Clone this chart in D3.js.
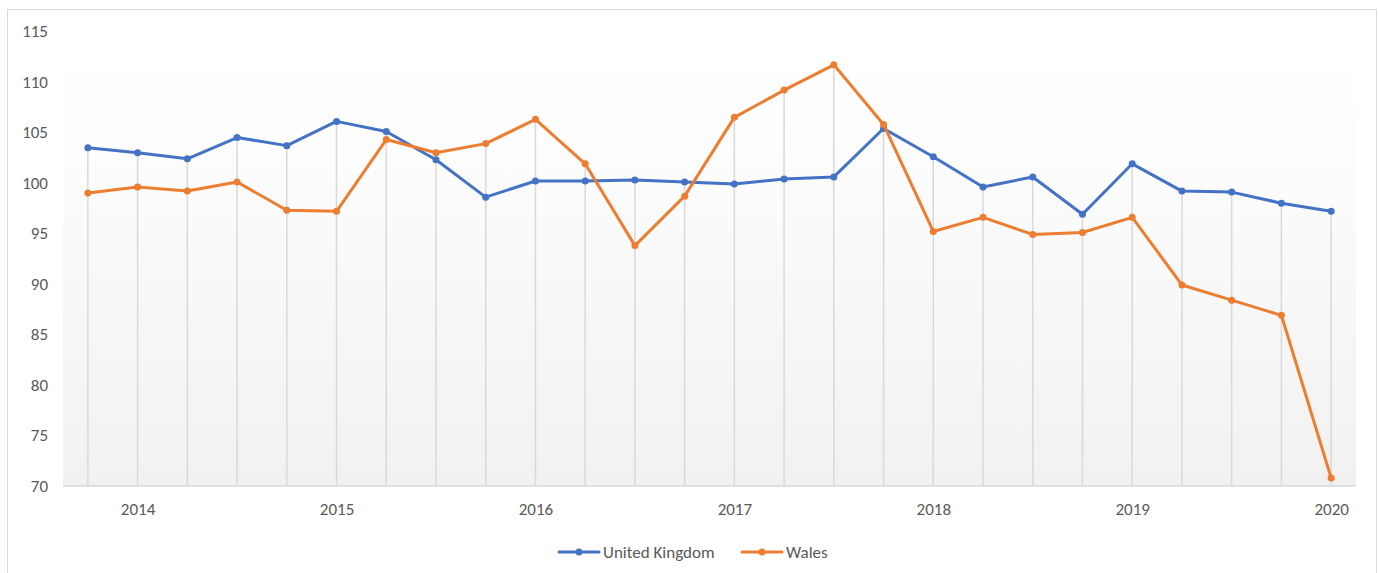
<!DOCTYPE html>
<html>
<head>
<meta charset="utf-8">
<script src="https://cdn.jsdelivr.net/npm/d3@7"></script>
<style>
  body { margin: 0; background: #fff; }
  text { font-family: Carlito, Lato, sans-serif; fill: #595959; }
</style>
</head>
<body>
<div id="chart"></div>
<script>
// quarters, 2013 Q4 to 2020 Q1
const quarters = ["2013 Q4",
  "2014 Q1", "2014 Q2", "2014 Q3", "2014 Q4",
  "2015 Q1", "2015 Q2", "2015 Q3", "2015 Q4",
  "2016 Q1", "2016 Q2", "2016 Q3", "2016 Q4",
  "2017 Q1", "2017 Q2", "2017 Q3", "2017 Q4",
  "2018 Q1", "2018 Q2", "2018 Q3", "2018 Q4",
  "2019 Q1", "2019 Q2", "2019 Q3", "2019 Q4",
  "2020 Q1"];

const ukValues = [103.5, 103.0, 102.4, 104.5, 103.7, 106.1, 105.1, 102.3,
  98.6, 100.2, 100.2, 100.3, 100.1, 99.9, 100.4, 100.6, 105.4,
  102.6, 99.6, 100.6, 96.9, 101.9, 99.2, 99.1, 98.0, 97.2];

const walesValues = [99.0, 99.6, 99.2, 100.1, 97.3, 97.2, 104.3, 103.0,
  103.9, 106.3, 101.9, 93.8, 98.7, 106.5, 109.2, 111.7, 105.8,
  95.2, 96.6, 94.9, 95.1, 96.6, 89.9, 88.4, 86.9, 70.8];

const yTicks = [70, 75, 80, 85, 90, 95, 100, 105, 110, 115];

const series = [
  { name: "United Kingdom", values: ukValues, color: "#4472C4" },
  { name: "Wales", values: walesValues, color: "#ED7D31" }
];

const W = 1379, H = 573;
const plot = { left: 63, right: 1356, top: 31.5, bottom: 486 };

const svg = d3.select("#chart").append("svg")
  .attr("width", W).attr("height", H);

// chart border
svg.append("rect")
  .attr("x", 7.5).attr("y", 9.5)
  .attr("width", 1369).attr("height", 580)
  .attr("fill", "#fff").attr("stroke", "#d9d9d9");

const x = d3.scalePoint()
  .domain(quarters)
  .range([plot.left, plot.right])
  .padding(0.5);

const y = d3.scaleLinear()
  .domain([70, 115])
  .range([plot.bottom, plot.top]);

// plot area gradient
const grad = svg.append("defs").append("linearGradient")
  .attr("id", "bg").attr("x1", 0).attr("y1", 0).attr("x2", 0).attr("y2", 1);
grad.append("stop").attr("offset", "0%").attr("stop-color", "#ffffff");
grad.append("stop").attr("offset", "25%").attr("stop-color", "#fdfdfd");
grad.append("stop").attr("offset", "100%").attr("stop-color", "#f1f1f1");

svg.append("rect")
  .attr("x", plot.left).attr("y", plot.top)
  .attr("width", plot.right - plot.left)
  .attr("height", plot.bottom - plot.top)
  .attr("fill", "url(#bg)");

// drop lines from the highest point down to the axis
svg.append("g").selectAll("line")
  .data(quarters)
  .join("line")
  .attr("x1", d => x(d)).attr("x2", d => x(d))
  .attr("y1", (d, i) => y(Math.max(ukValues[i], walesValues[i])))
  .attr("y2", plot.bottom)
  .attr("stroke", "#d9d9d9")
  .attr("stroke-width", 1.5);

// x axis
const xAxis = svg.append("g")
  .attr("transform", `translate(0,${plot.bottom})`)
  .call(d3.axisBottom(x)
    .tickValues(quarters.filter(q => q.endsWith("Q1")))
    .tickFormat(q => q.slice(0, 4))
    .tickSize(0)
    .tickPadding(17));
xAxis.select(".domain")
  .attr("d", `M${plot.left},0H${plot.right}`)
  .attr("stroke", "#d9d9d9").attr("stroke-width", 1.5);
xAxis.selectAll("text")
  .style("font-size", "17px").attr("fill", "#595959");

// y axis
const yAxis = svg.append("g")
  .attr("transform", `translate(48,0)`)
  .call(d3.axisLeft(y).tickValues(yTicks).tickSize(0).tickPadding(0));
yAxis.select(".domain").remove();
yAxis.selectAll("text")
  .style("font-size", "17px").attr("fill", "#595959");

// lines and markers
const line = d3.line()
  .x((d, i) => x(quarters[i]))
  .y(d => y(d));

series.forEach(s => {
  svg.append("path")
    .datum(s.values)
    .attr("d", line)
    .attr("fill", "none")
    .attr("stroke", s.color)
    .attr("stroke-width", 3)
    .attr("stroke-linejoin", "round")
    .attr("stroke-linecap", "round");
  svg.append("g").selectAll("circle")
    .data(s.values)
    .join("circle")
    .attr("cx", (d, i) => x(quarters[i]))
    .attr("cy", d => y(d))
    .attr("r", 3.5)
    .attr("fill", s.color);
});

// legend
const legendX = [559, 742];
const legend = svg.append("g");
series.forEach((s, i) => {
  const g = legend.append("g").attr("transform", `translate(${legendX[i]},552)`);
  g.append("line")
    .attr("x1", 0).attr("x2", 40)
    .attr("stroke", s.color).attr("stroke-width", 3)
    .attr("stroke-linecap", "round");
  g.append("circle").attr("cx", 20).attr("r", 3.5).attr("fill", s.color);
  g.append("text")
    .attr("x", 44).attr("dy", "0.35em")
    .style("font-size", "17px")
    .text(s.name);
});
</script>
</body>
</html>
